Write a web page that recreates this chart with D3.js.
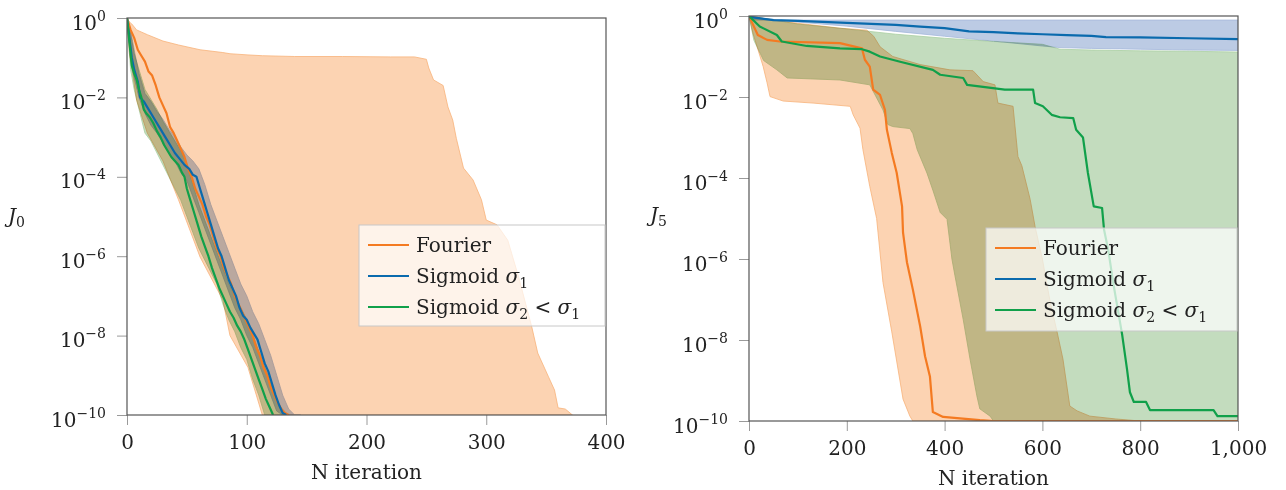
<!DOCTYPE html>
<html>
<head>
<meta charset="utf-8">
<script src="https://cdn.jsdelivr.net/npm/d3@7"></script>
<style>
  body { margin: 0; background: #fff; }
  svg { font-family: "DejaVu Serif", "Liberation Serif", serif; }
  text { white-space: pre; }
  .band { mix-blend-mode: multiply; }
</style>
</head>
<body>
<svg id="chart" width="1286" height="490"></svg>
<script>
// ---- shared ----
const seriesNames = ["Fourier", "Sigmoid σ1", "Sigmoid σ2 < σ1"];
const yTickValues = [1, 1e-2, 1e-4, 1e-6, 1e-8, 1e-10];

// ---- left panel (J_0), values stored as log10 ----
const leftXTicks = [0, 100, 200, 300, 400];

const leftFourierIters = [0,3,6,9,12,15,18,21,24,27,30,33,36,39,42,45,48,51,54,57,60,63,66,69,72,75,78,81,84,87,90,93,96,99,102,105,108,111,114,117,120,123,126,129,132,135];
const leftFourierLog = [0,-0.3,-0.5,-0.8,-0.95,-1.1,-1.35,-1.45,-1.7,-2.0,-2.2,-2.4,-2.75,-2.9,-3.1,-3.3,-3.5,-3.8,-4.0,-4.3,-4.5,-4.7,-5.0,-5.2,-5.5,-5.8,-6.0,-6.3,-6.5,-6.7,-7.0,-7.2,-7.4,-7.6,-7.8,-8.0,-8.3,-8.5,-8.8,-9.0,-9.3,-9.5,-9.7,-9.85,-9.95,-10];

const leftSig1Iters = [0,2,4,6,9,11,14,17,20,24,28,32,36,40,44,48,52,55,58,61,64,67,70,73,76,79,82,85,88,91,94,97,100,103,106,109,112,115,118,121,124,127,130,133];
const leftSig1Log = [0,-0.5,-1.0,-1.3,-1.6,-2.0,-2.1,-2.25,-2.4,-2.6,-2.8,-3.0,-3.2,-3.4,-3.55,-3.7,-3.8,-3.95,-4.0,-4.3,-4.6,-4.9,-5.2,-5.5,-5.8,-6.0,-6.3,-6.6,-6.8,-7.0,-7.3,-7.5,-7.6,-7.8,-7.95,-8.1,-8.4,-8.7,-8.9,-9.2,-9.5,-9.75,-9.95,-10];

const leftSig2Iters = [0,2,4,6,8,10,12,14,16,19,22,25,28,31,34,37,40,43,46,48,50,53,56,59,62,65,68,71,74,77,80,83,86,89,92,95,98,101,104,107,110,113,116,119,122];
const leftSig2Log = [0,-0.6,-1.2,-1.4,-1.55,-1.8,-2.0,-2.3,-2.4,-2.5,-2.65,-2.85,-3.0,-3.2,-3.35,-3.5,-3.6,-3.7,-3.9,-4.0,-4.3,-4.6,-4.9,-5.2,-5.5,-5.75,-6.0,-6.3,-6.55,-6.8,-7.0,-7.2,-7.4,-7.55,-7.75,-7.9,-8.1,-8.35,-8.6,-8.85,-9.1,-9.35,-9.6,-9.8,-10];

const leftFourierBandHiIters = [0,2,4,8,17,30,43,61,80,86,101,113,140,180,220,240,250,252,256,264,268,272,275,281,289,296,300,309,318,327,338,343,352,357,360,366,372];
const leftFourierBandHiLog = [0,-0.1,-0.15,-0.3,-0.42,-0.58,-0.68,-0.8,-0.87,-0.9,-0.93,-0.95,-0.97,-0.97,-0.98,-0.98,-1.04,-1.26,-1.56,-1.7,-2.24,-2.57,-3.03,-3.78,-4.08,-4.58,-5.09,-5.21,-5.6,-6.52,-7.78,-8.44,-9.04,-9.37,-9.82,-9.85,-10];
const leftFourierBandLoIters = [0,2,4,8,17,30,43,61,80,86,101,113];
const leftFourierBandLoLog = [0,-0.9,-1.24,-2.07,-2.9,-3.6,-4.58,-6.02,-7.1,-8.0,-8.8,-10];

const leftSig1BandIters = [0,3,6,10,15,20,25,30,35,40,45,50,55,60,65,70,75,80,85,90,95,100,105,110,115,120,125,130,135,140,145];
const leftSig1BandHiLog = [0,-0.3,-0.8,-1.4,-1.9,-2.1,-2.35,-2.55,-2.8,-3.0,-3.25,-3.45,-3.6,-3.8,-4.2,-4.7,-5.1,-5.5,-5.9,-6.3,-6.7,-7.0,-7.4,-7.7,-8.1,-8.5,-9.0,-9.5,-9.85,-10,-10];
const leftSig1BandLoLog = [0,-0.9,-1.5,-2.0,-2.4,-2.7,-2.9,-3.15,-3.4,-3.6,-3.9,-4.1,-4.5,-4.9,-5.3,-5.7,-6.1,-6.5,-6.9,-7.3,-7.6,-8.0,-8.3,-8.7,-9.1,-9.5,-9.9,-10,-10,-10,-10];

const leftSig2BandIters = [0,3,6,10,15,20,25,30,35,40,45,50,55,60,65,70,75,80,85,90,95,100,105,110,115,120,125,130,135];
const leftSig2BandHiLog = [0,-0.4,-0.9,-1.3,-1.8,-2.05,-2.3,-2.6,-2.85,-3.1,-3.35,-3.7,-4.2,-4.7,-5.1,-5.5,-5.9,-6.3,-6.7,-7.0,-7.3,-7.6,-8.0,-8.4,-8.8,-9.2,-9.6,-9.9,-10];
const leftSig2BandLoLog = [0,-1.3,-1.8,-2.3,-2.9,-3.1,-3.4,-3.7,-4.0,-4.3,-4.6,-5.0,-5.4,-5.8,-6.1,-6.4,-6.7,-7.2,-7.6,-7.9,-8.3,-8.6,-9.1,-9.5,-10,-10,-10,-10,-10];

// ---- right panel (J_5) ----
const rightXTicks = [0, 200, 400, 600, 800, 1000];

const rightFourierIters = [0,18,37,63,186,231,237,247,254,268,278,282,292,302,313,315,323,335,350,360,370,376,397,472,500,1000];
const rightFourierLog = [0,-0.47,-0.59,-0.63,-0.67,-0.8,-1.08,-1.25,-1.82,-1.95,-2.32,-2.81,-3.38,-3.87,-4.7,-5.35,-6.08,-6.75,-7.66,-8.4,-8.9,-9.78,-9.9,-9.98,-10,-10];

const rightSig1Iters = [0,50,100,200,300,350,400,450,500,550,600,650,700,730,800,900,1000];
const rightSig1Log = [-0.02,-0.1,-0.12,-0.17,-0.22,-0.26,-0.3,-0.38,-0.4,-0.43,-0.45,-0.47,-0.49,-0.52,-0.53,-0.55,-0.57];

const rightSig2Iters = [0,22,57,67,118,186,231,247,268,309,376,391,438,446,499,523,581,585,601,619,636,663,669,683,693,705,722,726,735,745,755,763,773,779,787,812,820,950,958,1000];
const rightSig2Log = [0,-0.26,-0.47,-0.63,-0.74,-0.8,-0.82,-0.88,-1.0,-1.13,-1.33,-1.45,-1.53,-1.7,-1.78,-1.82,-1.82,-2.15,-2.23,-2.44,-2.5,-2.52,-2.81,-3.0,-3.87,-4.7,-4.74,-5.27,-5.8,-6.6,-7.3,-7.86,-8.72,-9.29,-9.53,-9.53,-9.73,-9.73,-9.88,-9.88];

const rightFourierBandHiIters = [0,50,100,186,241,255,268,294,350,411,458,479,503,509,540,550,558,575,585,600,615,630,642,656,671,697,750,800];
const rightFourierBandHiLog = [0,-0.1,-0.18,-0.3,-0.35,-0.5,-0.76,-1.0,-1.2,-1.33,-1.35,-1.62,-1.7,-2.15,-2.23,-3.47,-3.7,-4.53,-5.2,-6.0,-7.0,-7.8,-8.47,-9.63,-9.75,-9.88,-9.95,-10];
const rightFourierBandLoIters = [0,8,29,37,43,70,131,207,213,227,233,247,261,274,292,315,329,335];
const rightFourierBandLoLog = [0,-0.42,-1.25,-1.65,-1.99,-2.1,-2.15,-2.23,-2.44,-2.77,-3.3,-4.21,-5.0,-6.58,-7.8,-9.46,-9.88,-10];

const rightSig1BandHiIters = [0,10,1000];
const rightSig1BandHiLog = [0,-0.1,-0.1];
const rightSig1BandLoIters = [0,100,200,300,400,500,600,636,700,800,900,1000];
const rightSig1BandLoLog = [-0.02,-0.15,-0.25,-0.38,-0.5,-0.62,-0.74,-0.78,-0.8,-0.82,-0.84,-0.85];

const rightSig2BandHiIters = [0,100,200,300,400,500,600,636,700,800,900,1000];
const rightSig2BandHiLog = [0,-0.2,-0.32,-0.45,-0.55,-0.63,-0.7,-0.82,-0.84,-0.86,-0.87,-0.89];
const rightSig2BandLoIters = [0,10,30,57,78,186,247,274,284,294,329,335,344,364,376,391,405,415,421,438,452,466,472,493,500,1000];
const rightSig2BandLoLog = [0,-0.6,-1.1,-1.33,-1.53,-1.58,-1.7,-2.32,-2.68,-2.73,-2.78,-2.9,-3.3,-3.88,-4.3,-4.85,-5.02,-6.0,-6.4,-7.49,-8.47,-9.38,-9.7,-9.88,-10,-10];

// ---- styling ----
const lineColours = ["#f47a21", "#0a6aad", "#10a04a"];
const fillColours = ["#fcd3b2", "#bccbe4", "#c3dcbe"];
const edgeColours = ["#f7b27a", "#a5b8da", "#a9cfa2"];

const svg = d3.select("#chart");

function pts(iters, logs) {
  return iters.map((x, i) => [x, Math.max(Math.pow(10, logs[i]), 1e-10)]);
}

// text with italic sigma + subscript digit
function richText(sel, str, size) {
  let shift = 0;
  str.split(/(σ\d)/).forEach(part => {
    if (!part) return;
    if (/^σ\d$/.test(part)) {
      sel.append("tspan").attr("font-style", "italic").attr("dy", shift || null).text("σ");
      sel.append("tspan").attr("font-size", size * 0.7).attr("dy", 5).text(part[1]);
      shift = -5;
    } else {
      sel.append("tspan").attr("dy", shift || null).text(part);
      shift = 0;
    }
  });
}

function drawPanel(cfg) {
  const x = d3.scaleLinear().domain([0, cfg.xMax]).range([cfg.left, cfg.right]);
  const y = d3.scaleLog().domain([1e-10, 1]).range([cfg.bottom, cfg.top]);
  const line = d3.line().x(d => x(d[0])).y(d => y(d[1]));

  const g = svg.append("g").attr("class", "panel");

  g.append("clipPath").attr("id", cfg.id + "clip")
    .append("rect")
    .attr("x", cfg.left).attr("y", cfg.top)
    .attr("width", cfg.right - cfg.left).attr("height", cfg.bottom - cfg.top);

  // bands
  const bandG = g.append("g")
    .attr("clip-path", `url(#${cfg.id}clip)`)
    .style("isolation", "isolate");
  cfg.bands.forEach((b, i) => {
    const poly = b.hi.concat(b.lo.slice().reverse());
    bandG.append("path")
      .attr("class", "band")
      .attr("d", line(poly) + "Z")
      .attr("fill", fillColours[i])
      .attr("stroke", edgeColours[i])
      .attr("stroke-width", 0.8);
  });

  // mean lines
  const lineG = g.append("g").attr("clip-path", `url(#${cfg.id}clip)`);
  cfg.lines.forEach((l, i) => {
    lineG.append("path")
      .attr("d", line(l))
      .attr("fill", "none")
      .attr("stroke", lineColours[i])
      .attr("stroke-width", 2.2)
      .attr("stroke-linejoin", "round");
  });

  // axes
  const yAxis = d3.axisLeft(y).tickValues(yTickValues)
    .tickSize(10).tickSizeOuter(0).tickPadding(11).tickFormat("");
  const yg = g.append("g").attr("transform", `translate(${cfg.left},0)`).call(yAxis);
  yg.attr("font-family", null).attr("font-size", 20);
  yg.select(".domain").remove();
  yg.selectAll(".tick line").attr("stroke", "#9a9a9a");
  yg.selectAll(".tick text").attr("fill", "#222").attr("dy", 11)
    .each(function (d) {
      const t = d3.select(this);
      const e = Math.round(Math.log10(d));
      t.append("tspan").text("10");
      t.append("tspan").attr("font-size", 14).attr("dy", -9).text(e === 0 ? "0" : "−" + (-e));
    });

  const xAxis = d3.axisBottom(x).tickValues(cfg.xTicks)
    .tickSize(10).tickSizeOuter(0).tickPadding(10).tickFormat(d3.format(","));
  const xg = g.append("g").attr("transform", `translate(0,${cfg.bottom})`).call(xAxis);
  xg.attr("font-family", null).attr("font-size", 20);
  xg.select(".domain").remove();
  xg.selectAll(".tick line").attr("stroke", "#9a9a9a");
  xg.selectAll(".tick text").attr("fill", "#222");

  // frame
  g.append("rect")
    .attr("x", cfg.left).attr("y", cfg.top)
    .attr("width", cfg.right - cfg.left).attr("height", cfg.bottom - cfg.top)
    .attr("fill", "none").attr("stroke", "#555").attr("stroke-width", 1.2);

  // axis labels
  g.append("text")
    .attr("x", (cfg.left + cfg.right) / 2).attr("y", cfg.xLabelY)
    .attr("text-anchor", "middle").attr("font-size", 20).attr("fill", "#222")
    .text("N iteration");
  const jl = g.append("text")
    .attr("x", cfg.yLabelX).attr("y", cfg.yLabelY)
    .attr("font-size", 20).attr("fill", "#222");
  jl.append("tspan").attr("font-style", "italic").text("J");
  jl.append("tspan").attr("font-size", 14).attr("dy", 4).text(cfg.yLabelSub);

  // legend
  const lg = g.append("g").attr("transform", `translate(${cfg.legend.x},${cfg.legend.y})`);
  lg.append("rect")
    .attr("width", cfg.legend.w).attr("height", cfg.legend.h)
    .attr("fill", "#fff").attr("fill-opacity", 0.72)
    .attr("stroke", "#c8c8c8").attr("stroke-width", 1);
  const rows = lg.selectAll(".legendRow").data(seriesNames).enter()
    .append("g").attr("class", "legendRow")
    .attr("transform", (d, i) => `translate(0,${20 + i * 31})`);
  rows.append("line")
    .attr("x1", 9).attr("x2", 50)
    .attr("stroke", (d, i) => lineColours[i]).attr("stroke-width", 2.2);
  rows.append("text")
    .attr("x", 57).attr("y", 7).attr("font-size", 20).attr("fill", "#222")
    .each(function (d) { richText(d3.select(this), d, 20); });
}

drawPanel({
  id: "left", left: 127, right: 606, top: 18, bottom: 415, xMax: 400,
  xTicks: leftXTicks, xLabelY: 479, yLabelX: 8, yLabelY: 223, yLabelSub: "0",
  legend: { x: 359, y: 225, w: 246, h: 101 },
  bands: [
    { hi: pts(leftFourierBandHiIters, leftFourierBandHiLog), lo: pts(leftFourierBandLoIters, leftFourierBandLoLog) },
    { hi: pts(leftSig1BandIters, leftSig1BandHiLog), lo: pts(leftSig1BandIters, leftSig1BandLoLog) },
    { hi: pts(leftSig2BandIters, leftSig2BandHiLog), lo: pts(leftSig2BandIters, leftSig2BandLoLog) }
  ],
  lines: [
    pts(leftFourierIters, leftFourierLog),
    pts(leftSig1Iters, leftSig1Log),
    pts(leftSig2Iters, leftSig2Log)
  ]
});

drawPanel({
  id: "right", left: 749, right: 1238, top: 16, bottom: 421, xMax: 1000,
  xTicks: rightXTicks, xLabelY: 485, yLabelX: 650, yLabelY: 222, yLabelSub: "5",
  legend: { x: 986, y: 228, w: 251, h: 103 },
  bands: [
    { hi: pts(rightFourierBandHiIters, rightFourierBandHiLog), lo: pts(rightFourierBandLoIters, rightFourierBandLoLog) },
    { hi: pts(rightSig1BandHiIters, rightSig1BandHiLog), lo: pts(rightSig1BandLoIters, rightSig1BandLoLog) },
    { hi: pts(rightSig2BandHiIters, rightSig2BandHiLog), lo: pts(rightSig2BandLoIters, rightSig2BandLoLog) }
  ],
  lines: [
    pts(rightFourierIters, rightFourierLog),
    pts(rightSig1Iters, rightSig1Log),
    pts(rightSig2Iters, rightSig2Log)
  ]
});
</script>
</body>
</html>
